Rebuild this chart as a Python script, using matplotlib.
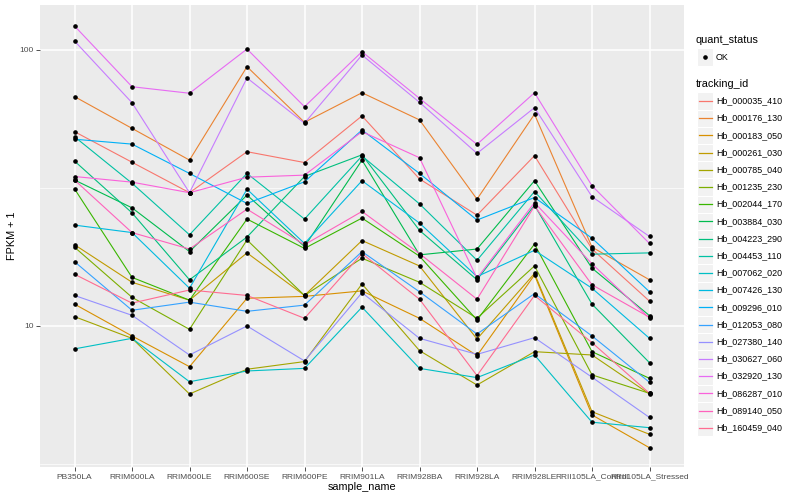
import numpy as np
import matplotlib
matplotlib.use('Agg')
import matplotlib.pyplot as plt
from matplotlib.patches import Rectangle
from matplotlib.lines import Line2D
from matplotlib.ticker import FixedLocator, NullFormatter

samples = ['PB350LA', 'RRIM600LA', 'RRIM600LE', 'RRIM600SE', 'RRIM600PE', 'RRIM901LA',
           'RRIM928BA', 'RRIM928LA', 'RRIM928LE', 'RRII105LA_Control', 'RRII105LA_Stressed']

tracking_ids = ['Hb_000035_410', 'Hb_000176_130', 'Hb_000183_050', 'Hb_000261_030',
                'Hb_000785_040', 'Hb_001235_230', 'Hb_002044_170', 'Hb_003884_030',
                'Hb_004223_290', 'Hb_004453_110', 'Hb_007062_020', 'Hb_007426_130',
                'Hb_009296_010', 'Hb_012053_080', 'Hb_027380_140', 'Hb_030627_060',
                'Hb_032920_130', 'Hb_086287_010', 'Hb_089140_050', 'Hb_160459_040']

# FPKM per gene, one value per sample
hb_000035_410 = [49.6, 38.2, 29.4, 41.8, 38.1, 56.7, 33.1, 24.2, 40.4, 18.0, 11.3]
hb_000176_130 = [66.8, 51.0, 38.9, 86.0, 53.7, 69.0, 54.8, 27.8, 57.5, 18.3, 13.7]
hb_000183_050 = [11.0, 8.2, 6.12, 11.6, 11.8, 12.4, 9.66, 6.81, 14.3, 3.76, 2.62]
hb_000261_030 = [18.7, 13.4, 11.4, 17.4, 11.9, 19.4, 15.5, 7.97, 14.5, 3.89, 3.05]
hb_000785_040 = [9.81, 8.02, 4.67, 5.97, 6.43, 13.2, 7.14, 5.11, 7.07, 6.85, 4.67]
hb_001235_230 = [18.3, 11.7, 8.72, 19.5, 11.9, 16.6, 13.4, 9.66, 15.5, 5.65, 4.70]
hb_002044_170 = [30.4, 14.0, 11.4, 23.4, 18.1, 23.6, 16.9, 9.51, 18.8, 7.07, 5.46]
hb_003884_030 = [32.8, 25.8, 17.6, 28.8, 18.4, 38.9, 17.1, 18.0, 32.6, 15.2, 9.9]
hb_004223_290 = [38.6, 24.7, 13.7, 20.0, 33.8, 40.7, 21.2, 13.7, 26.4, 11.0, 6.36]
hb_004453_110 = [47.5, 31.9, 20.4, 34.7, 23.4, 40.3, 26.7, 16.3, 29.7, 17.2, 17.4]
hb_007062_020 = [7.26, 8.02, 5.28, 5.87, 6.02, 10.7, 6.02, 5.50, 6.85, 3.48, 3.28]
hb_007426_130 = [22.2, 20.8, 12.7, 30.3, 18.9, 32.6, 22.6, 14.1, 17.8, 12.7, 8.02]
hb_009296_010 = [46.5, 44.6, 34.7, 26.8, 32.3, 50.3, 34.7, 23.2, 28.2, 19.8, 12.3]
hb_012053_080 = [16.1, 10.4, 11.2, 10.3, 10.9, 17.6, 12.3, 8.35, 12.1, 8.2, 5.25]
hb_027380_140 = [11.9, 9.93, 6.85, 9.0, 6.47, 12.2, 8.02, 6.89, 8.07, 5.52, 3.66]
hb_030627_060 = [106.8, 63.4, 29.4, 78.2, 53.3, 94.9, 63.6, 41.2, 60.8, 28.4, 20.1]
hb_032920_130 = [121.2, 72.6, 68.7, 99.8, 61.3, 97.6, 65.8, 44.5, 69.0, 31.2, 18.9]
hb_086287_010 = [33.8, 32.2, 29.4, 33.6, 34.2, 49.6, 39.7, 13.9, 27.0, 15.8, 9.66]
hb_089140_050 = [32.8, 20.8, 18.0, 25.5, 18.7, 25.0, 17.3, 11.5, 26.2, 13.1, 9.75]
hb_160459_040 = [14.4, 11.1, 12.5, 11.9, 9.66, 17.3, 11.5, 5.61, 11.9, 7.70, 4.70]

fpkm = [hb_000035_410, hb_000176_130, hb_000183_050, hb_000261_030, hb_000785_040,
        hb_001235_230, hb_002044_170, hb_003884_030, hb_004223_290, hb_004453_110,
        hb_007062_020, hb_007426_130, hb_009296_010, hb_012053_080, hb_027380_140,
        hb_030627_060, hb_032920_130, hb_086287_010, hb_089140_050, hb_160459_040]

# ggplot hue palette, 20 levels
colors = ['#F8766D', '#EA8331', '#D89000', '#C09B00', '#A3A500', '#7CAE00', '#39B600',
          '#00BB4E', '#00BF7D', '#00C1A3', '#00BFC4', '#00BAE0', '#00B0F6', '#35A2FF',
          '#9590FF', '#C77CFF', '#E76BF3', '#FA62DB', '#FF62BC', '#FF6C91']

plt.rcParams['font.family'] = ['Liberation Sans', 'DejaVu Sans']

W, H = 800, 500
fig = plt.figure(figsize=(W / 100, H / 100), dpi=100)


def fx(px):
    return px / W


def fy(py):
    return 1 - py / H


ax = fig.add_axes([fx(40), fy(467), fx(684) - fx(40), fy(5) - fy(467)])
ax.set_facecolor('#EBEBEB')

x = np.arange(len(samples))
for vals, c in zip(fpkm, colors):
    ax.plot(x, np.array(vals) + 1, color=c, lw=0.8, zorder=2)
for vals in fpkm:
    ax.plot(x, np.array(vals) + 1, 'o', color='black', ms=2.3, ls='none', zorder=3)

ax.set_yscale('log')
ax.set_xlim(-0.6, len(samples) - 0.4)
ax.set_ylim(10 ** 0.489, 10 ** 2.163)
ax.yaxis.set_major_locator(FixedLocator([10, 100]))
ax.set_yticklabels(['10', '100'])
ax.yaxis.set_minor_locator(FixedLocator([10 ** 0.5, 10 ** 1.5]))
ax.yaxis.set_minor_formatter(NullFormatter())
ax.set_xticks(x)
ax.set_xticklabels(samples)

ax.grid(which='major', color='white', lw=1.1)
ax.grid(which='minor', axis='y', color='white', lw=0.5)
ax.set_axisbelow(True)
for s in ax.spines.values():
    s.set_visible(False)
ax.tick_params(which='major', length=2.7, width=0.6, color='#333333',
               labelsize=6, labelcolor='#4D4D4D', pad=2)
ax.tick_params(which='minor', length=0)

fig.text(fx(362), fy(487), 'sample_name', ha='center', va='center', fontsize=7.8)
fig.text(fx(12), fy(236), 'FPKM + 1', ha='center', va='center', rotation=90, fontsize=7.8)

# legends, drawn by hand in the ggplot layout
key_x0, key_w, key_h = 697, 16, 17.2
text_x = 716

fig.text(fx(696), fy(40), 'quant_status', ha='left', va='center', fontsize=7.8)
fig.add_artist(Rectangle((fx(key_x0), fy(57 + key_h / 2)), fx(key_w), key_h / H,
                         transform=fig.transFigure, facecolor='#F2F2F2',
                         edgecolor='white', lw=0.8))
fig.add_artist(Line2D([fx(key_x0 + key_w / 2)], [fy(57)], marker='o', color='black',
                      ms=2.3, transform=fig.transFigure))
fig.text(fx(text_x), fy(57), 'OK', ha='left', va='center', fontsize=6.4)

fig.text(fx(696), fy(84), 'tracking_id', ha='left', va='center', fontsize=7.8)
for i, (name, c) in enumerate(zip(tracking_ids, colors)):
    yc = 101 + i * key_h
    fig.add_artist(Rectangle((fx(key_x0), fy(yc + key_h / 2)), fx(key_w), key_h / H,
                             transform=fig.transFigure, facecolor='#F2F2F2',
                             edgecolor='white', lw=0.8))
    fig.add_artist(Line2D([fx(key_x0 + 1.5), fx(key_x0 + key_w - 1.5)], [fy(yc), fy(yc)],
                          color=c, lw=0.9, transform=fig.transFigure))
    fig.text(fx(text_x), fy(yc), name, ha='left', va='center', fontsize=6.4)

fig.savefig('out.png', dpi=100)
